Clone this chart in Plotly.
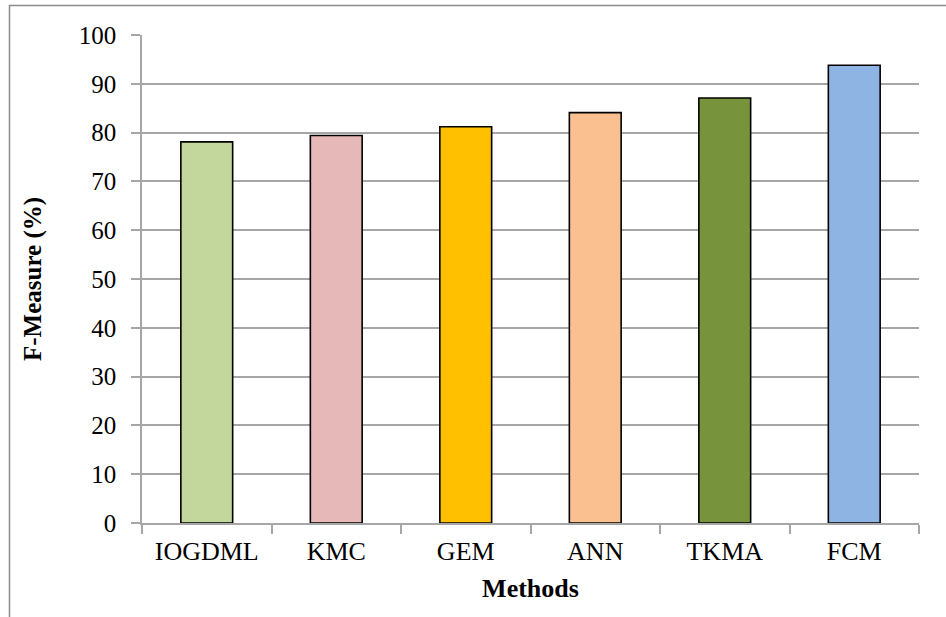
import plotly.graph_objects as go

# Data
methods = ["IOGDML", "KMC", "GEM", "ANN", "TKMA", "FCM"]
f_measure = [78.1, 79.4, 81.2, 84.1, 87.1, 93.8]
bar_colors = ["#C3D69B", "#E6B9B8", "#FFC000", "#FAC090", "#77933C", "#8EB4E3"]
y_ticks = list(range(0, 101, 10))

W, H = 946, 617
ML, MR, MT, MB = 142, 27, 35, 94
plot_w = W - ML - MR
plot_h = H - MT - MB

fig = go.Figure(
    go.Bar(
        x=methods,
        y=f_measure,
        marker=dict(color=bar_colors, line=dict(color="#000000", width=1.6)),
        width=0.4,
        hoverinfo="x+y",
    )
)

grid_color = "#A6A6A6"
serif = "Liberation Serif, Times New Roman, serif"

fig.update_layout(
    width=W,
    height=H,
    margin=dict(l=ML, r=MR, t=MT, b=MB),
    paper_bgcolor="white",
    plot_bgcolor="white",
    showlegend=False,
    font=dict(family=serif, color="#000000"),
    xaxis=dict(
        type="category",
        showgrid=False,
        showline=True,
        linecolor=grid_color,
        linewidth=1.5,
        ticks="outside",
        tickson="boundaries",
        ticklen=9,
        tickwidth=1.5,
        tickcolor=grid_color,
        ticklabelstandoff=4,
        tickfont=dict(size=26, family=serif),
        title=dict(text="<b>Methods</b>", font=dict(size=26, family=serif), standoff=14),
    ),
    yaxis=dict(
        range=[0, 100],
        tickvals=y_ticks,
        showgrid=True,
        gridcolor=grid_color,
        gridwidth=1.5,
        zeroline=False,
        showline=True,
        linecolor=grid_color,
        linewidth=1.5,
        ticks="outside",
        ticklen=9,
        tickwidth=1.5,
        tickcolor=grid_color,
        ticklabelstandoff=10,
        tickfont=dict(size=25, family=serif),
        title=dict(text="<b>F-Measure (%)</b>", font=dict(size=25, family=serif), standoff=30),
    ),
)

# Chart frame: top and left edges of the surrounding border
x_left = (9.5 - ML) / plot_w
y_top = (plot_h + MT - 5.5) / plot_h
y_bot = -(MB + 10) / plot_h
fig.add_shape(
    type="path",
    xref="paper",
    yref="paper",
    path=f"M {x_left} {y_bot} L {x_left} {y_top} L 1.2 {y_top}",
    line=dict(color="#8C8C8C", width=1.5),
    layer="above",
)

fig.write_html("out.html")
